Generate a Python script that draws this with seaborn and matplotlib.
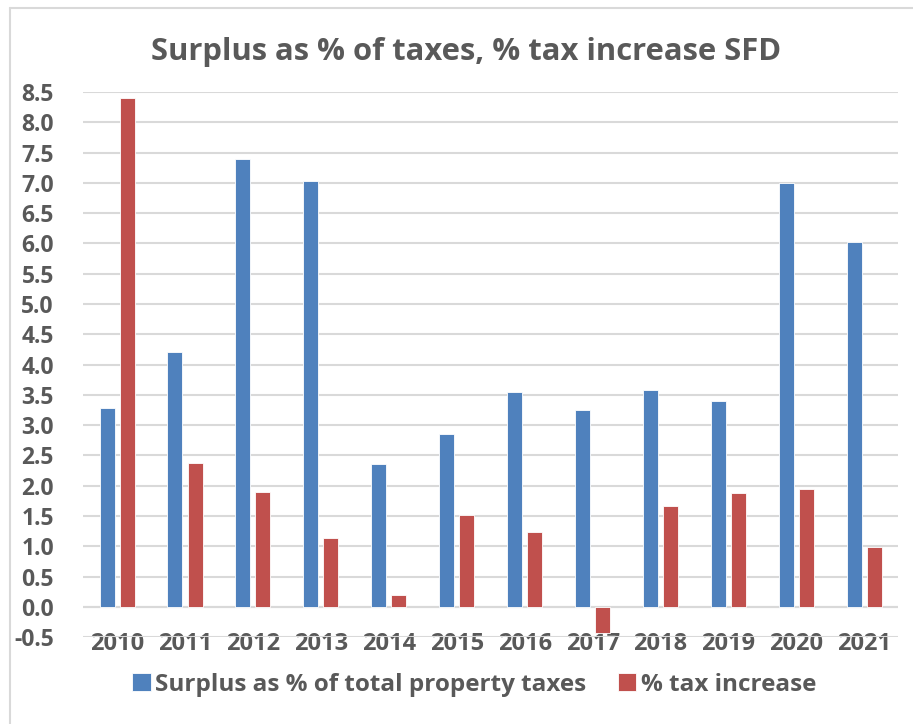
import numpy as np
import pandas as pd
import matplotlib
matplotlib.use("Agg")
import matplotlib.pyplot as plt
from matplotlib.lines import Line2D
import seaborn as sns

# Values
years = ["2010", "2011", "2012", "2013", "2014", "2015",
         "2016", "2017", "2018", "2019", "2020", "2021"]
surplus = [3.28, 4.21, 7.39, 7.03, 2.35, 2.86, 3.54, 3.25, 3.58, 3.39, 7.00, 6.02]
tax_increase = [8.40, 2.37, 1.90, 1.14, 0.20, 1.52, 1.24, -0.43, 1.66, 1.88, 1.95, 0.98]
series_names = ["Surplus as % of total property taxes", "% tax increase"]

df = pd.DataFrame({
    "Year": years * 2,
    "Value": surplus + tax_increase,
    "Series": [series_names[0]] * len(years) + [series_names[1]] * len(years),
})

sns.set_theme(style="white")
plt.rcParams["font.family"] = ["Open Sans", "DejaVu Sans"]

text_color = "#595959"
palette = {series_names[0]: "#4F81BD", series_names[1]: "#C0504D"}

fig = plt.figure(figsize=(9.13, 7.24), dpi=100)
ax = fig.add_axes([0.091, 0.120, 0.893, 0.753])

sns.barplot(data=df, x="Year", y="Value", hue="Series", palette=palette,
            width=0.59, gap=0.25, saturation=1, ax=ax, legend=True,
            edgecolor="#FFFFFF", linewidth=0.6)

ax.set_ylim(-0.5, 8.5)
ax.set_xlim(-0.5, len(years) - 0.5)
ax.set_yticks(np.arange(-0.5, 8.51, 0.5))
ax.set_yticklabels([f"{v:.1f}" for v in np.arange(-0.5, 8.51, 0.5)])
ax.yaxis.grid(True, color="#D9D9D9", linewidth=1.5)
ax.set_axisbelow(True)
for s in ax.spines.values():
    s.set_visible(False)
ax.axhline(0, color="#D9D9D9", linewidth=1.5, zorder=0.5)

ax.set_xlabel("")
ax.set_ylabel("")
ax.tick_params(axis="x", length=0, pad=-4, labelsize=17, labelcolor=text_color)
ax.tick_params(axis="y", length=0, pad=21, labelsize=16.5, labelcolor=text_color)
for lab in ax.get_xticklabels() + ax.get_yticklabels():
    lab.set_fontweight("bold")

fig.text(0.511, 0.928, "Surplus as % of taxes, % tax increase SFD",
         ha="center", va="center", fontsize=22.3, fontweight="bold", color=text_color)

leg = ax.legend(loc="center", bbox_to_anchor=(0.48, -0.087), ncol=2, frameon=False,
                handlelength=0.75, handleheight=0.75, handletextpad=0.2,
                columnspacing=1.3, prop={"weight": "bold", "size": 17.5})
for t in leg.get_texts():
    t.set_color(text_color)

# light chart frame (top and left edges visible in reference)
fig.add_artist(Line2D([10 / 913, 1], [1 - 8 / 724, 1 - 8 / 724],
                      transform=fig.transFigure, color="#D9D9D9", linewidth=1.5))
fig.add_artist(Line2D([10 / 913, 10 / 913], [0, 1 - 8 / 724],
                      transform=fig.transFigure, color="#D9D9D9", linewidth=1.5))

fig.savefig("out.png", dpi=100)
